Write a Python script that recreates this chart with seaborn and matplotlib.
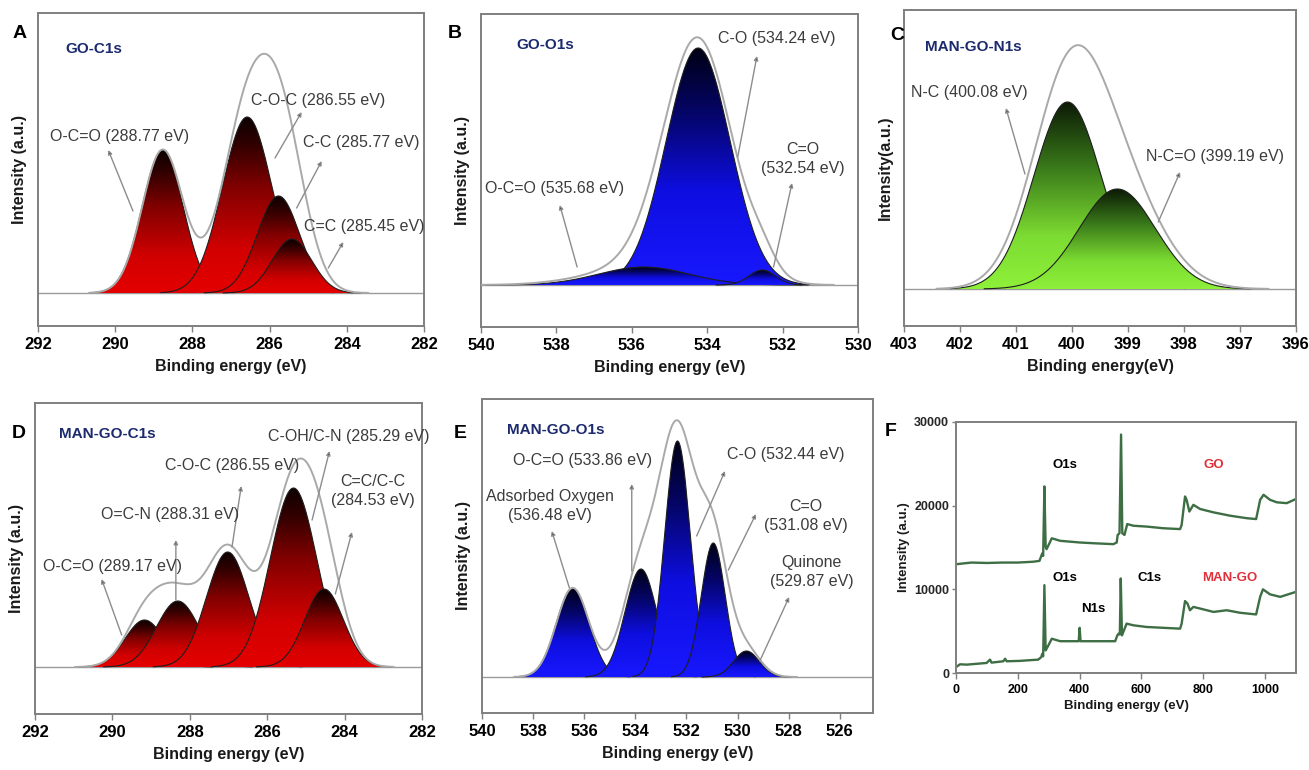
import numpy as np
import matplotlib
matplotlib.use("Agg")
import matplotlib.pyplot as plt
import seaborn as sns
from matplotlib.colors import LinearSegmentedColormap
from matplotlib.patches import Polygon

# ---------------- data ----------------
# Panel A : GO-C1s   (center eV, height a.u., gaussian sigma eV)
a_centers = [288.77, 286.58, 285.77, 285.42]
a_heights = [143, 176, 97, 54]
a_sigmas = [0.53, 0.64, 0.55, 0.51]
a_env_sigmas = [0.53, 0.64, 0.55, 0.55]
a_labels = ["O-C=O (288.77 eV)", "C-O-C (286.55 eV)", "C-C (285.77 eV)", "C=C (285.45 eV)"]

# Panel B : GO-O1s  (drawing order: C-O, O-C=O, C=O)
b_centers = [534.24, 535.68, 532.54]
b_heights = [237, 18, 15]
b_sigmas = [0.85, 1.2, 0.35]
b_env_sigmas = [0.9, 1.4, 0.35]
b_labels = ["C-O (534.24 eV)", "O-C=O (535.68 eV)", "C=O\n(532.54 eV)"]

# Panel C : MAN-GO-N1s
c_centers = [400.08, 399.19]
c_heights = [187, 100]
c_sigmas = [0.6, 0.68]
c_env_sigmas = [0.65, 0.75]
c_labels = ["N-C (400.08 eV)", "N-C=O (399.19 eV)"]

# Panel D : MAN-GO-C1s
d_centers = [289.17, 288.31, 287.02, 285.32, 284.53]
d_heights = [47, 66, 115, 179, 78]
d_sigmas = [0.5, 0.55, 0.55, 0.6, 0.5]
d_env_sigmas = [0.5, 0.55, 0.55, 0.6, 0.5]
d_labels = ["O-C=O (289.17 eV)", "O=C-N (288.31 eV)", "C-O-C (286.55 eV)",
            "C-OH/C-N (285.29 eV)", "C=C/C-C\n(284.53 eV)"]

# Panel E : MAN-GO-O1s
e_centers = [536.45, 533.78, 532.35, 530.95, 529.65]
e_heights = [89, 108, 236, 134, 26]
e_sigmas = [0.64, 0.62, 0.5, 0.47, 0.5]
e_env_sigmas = [0.64, 0.7, 0.68, 0.58, 0.55]
e_labels = ["Adsorbed Oxygen\n(536.48 eV)", "O-C=O (533.86 eV)", "C-O (532.44 eV)",
            "C=O\n(531.08 eV)", "Quinone\n(529.87 eV)"]

# Panel F : survey spectra
go_energy = [0, 50, 100, 150, 200, 250, 270, 279, 282, 286, 290, 293, 310, 337, 400, 450,
             509, 520, 523, 529, 534, 538, 545, 554, 574, 617, 671, 725, 730, 741, 746,
             755, 768, 790, 833, 887, 941, 971, 984, 995, 1016, 1038, 1070, 1100]
go_intensity = [13000, 13200, 13150, 13200, 13200, 13300, 13400, 14300, 14000, 22300, 15100,
                14800, 16100, 15800, 15600, 15500, 15400, 15600, 16500, 16700, 28500, 16700,
                16500, 17800, 17600, 17500, 17300, 17200, 17700, 21100, 20700, 19300, 20100,
                19600, 19200, 18800, 18500, 18400, 20700, 21300, 20700, 20400, 20300, 20800]
man_energy = [0, 13, 35, 99, 110, 115, 153, 159, 164, 207, 266, 276, 279, 282, 286, 290, 296,
              310, 337, 397, 400, 403, 455, 515, 522, 526, 530, 533, 537, 552, 574, 617, 725,
              730, 741, 749, 757, 768, 790, 833, 876, 919, 971, 984, 993, 1016, 1049, 1100]
man_intensity = [700, 1040, 1000, 1200, 1600, 1240, 1400, 1700, 1400, 1450, 1600, 1900, 2300,
                 2000, 10500, 2700, 3100, 4100, 3800, 3800, 5400, 3800, 3800, 3800, 4500, 4700,
                 4600, 11300, 4500, 5900, 5700, 5500, 5300, 5900, 8600, 8300, 7500, 7900, 7700,
                 7300, 7500, 7200, 7000, 9100, 10000, 9400, 9100, 9700]
f_labels = ["O1s", "GO", "O1s", "N1s", "C1s", "MAN-GO"]

# ---------------- style ----------------
sns.set_theme(style="white")
plt.rcParams["font.family"] = ["Liberation Sans", "DejaVu Sans"]

W, H = 1309, 770
fig = plt.figure(figsize=(W / 100, H / 100), dpi=100)

def px_axes(l, r, t, b):
    return fig.add_axes([l / W, 1 - b / H, (r - l) / W, (b - t) / H])

red_cmap = LinearSegmentedColormap.from_list(
    "r", [(0, "#e40000"), (0.25, "#d20000"), (0.6, "#820000"), (0.85, "#300000"), (1, "#0c0000")])
blue_cmap = LinearSegmentedColormap.from_list(
    "b", [(0, "#1818ff"), (0.4, "#0e0ee0"), (0.72, "#05056a"), (1, "#000014")])
green_cmap = LinearSegmentedColormap.from_list(
    "g", [(0, "#8ef03a"), (0.28, "#7ddc32"), (0.65, "#3a7a1a"), (1, "#0c1a06")])

TXT = "#3c3c3c"
SPINE = "#7f7f7f"
TITLE = "#1c2a6e"


def gauss(x, c, h, s):
    return h * np.exp(-(x - c) ** 2 / (2 * s ** 2))


def style_axes(ax, xlim, ylim, xticks, xlabel, ylabel, tsize=12, lsize=11.5, ylabpad=8):
    ax.set_xlim(*xlim)
    ax.set_ylim(*ylim)
    ax.set_xticks(xticks)
    ax.tick_params(axis="x", direction="out", length=4, width=1, color=SPINE,
                   labelsize=tsize, pad=4, labelcolor="black", bottom=True)
    for lab in ax.get_xticklabels():
        lab.set_fontweight("bold")
    for sp in ax.spines.values():
        sp.set_color(SPINE)
        sp.set_linewidth(1.4)
    ax.set_xlabel(xlabel, fontsize=lsize, fontweight="bold", color="#1a1a1a", labelpad=5)
    ax.set_ylabel(ylabel, fontsize=lsize, fontweight="bold", color="#1a1a1a", labelpad=ylabpad)


def xps_panel(ax, centers, heights, sigmas, env_sigmas, cmap, xlim, ylim, xticks,
              xlabel, ylabel, title, title_pos, labels, label_pos, arrows):
    ax.axhline(0, color="#9a9a9a", lw=1.0, zorder=1)
    lo = max(c + 3.6 * s for c, s in zip(centers, env_sigmas))
    hi = min(c - 3.6 * s for c, s in zip(centers, env_sigmas))
    grad = np.linspace(0, 1, 256).reshape(-1, 1)
    z = 2
    for c, h, s in zip(centers, heights, sigmas):
        x = np.linspace(c - 3.5 * s, c + 3.5 * s, 300)
        y = gauss(x, c, h, s)
        patch = Polygon(np.column_stack([np.r_[x, x[::-1]], np.r_[y, np.zeros_like(y)]]),
                        closed=True, facecolor="none", edgecolor="none")
        ax.add_patch(patch)
        img = ax.imshow(grad, aspect="auto", cmap=cmap, origin="lower",
                        extent=[x.min(), x.max(), 0, h], zorder=z, interpolation="bilinear")
        img.set_clip_path(patch)
        sns.lineplot(x=x, y=y, ax=ax, color="#1e1e1e", linewidth=0.8, zorder=z + 0.5)
        z += 1
    xe = np.linspace(hi, lo, 800)
    ye = np.zeros_like(xe)
    for c, h, s in zip(centers, heights, env_sigmas):
        ye += gauss(xe, c, h, s)
    sns.lineplot(x=xe, y=ye, ax=ax, color="#a9a9a9", linewidth=1.4, zorder=z + 1)
    for lab, (tx, ty, ha), (hx, hy, sx, sy) in zip(labels, label_pos, arrows):
        ax.text(tx, ty, lab, ha=ha, va="center", fontsize=11.5, color=TXT,
                multialignment="center", linespacing=1.3, zorder=z + 3)
        ax.annotate("", xy=(hx, hy), xytext=(sx, sy), zorder=z + 2,
                    arrowprops=dict(arrowstyle="-|>", ec="#8c8c8c", fc="#111111", lw=1.0,
                                    mutation_scale=6, shrinkA=0, shrinkB=0))
    ax.text(title_pos[0], title_pos[1], title, transform=ax.transAxes, fontsize=11,
            fontweight="bold", color=TITLE, ha="left", va="center", zorder=z + 3)
    style_axes(ax, xlim, ylim, xticks, xlabel, ylabel)
    ax.set_yticks([])


# ---------------- panel A ----------------
axA = px_axes(38, 424, 13, 326)
xps_panel(axA, a_centers, a_heights, a_sigmas, a_env_sigmas, red_cmap,
          (292, 282), (-33, 280), np.arange(292, 281, -2),
          "Binding energy (eV)", "Intensity (a.u.)", "GO-C1s", (0.07, 0.885), a_labels,
          [(291.70, 157, "left"), (286.47, 193, "left"), (285.13, 150, "left"), (285.11, 67, "left")],
          [(290.18, 143, 289.54, 82), (285.17, 181, 285.86, 135),
           (284.65, 132, 285.30, 85), (284.09, 51, 284.48, 25)])

# ---------------- panel B ----------------
axB = px_axes(481, 858, 14, 327)
xps_panel(axB, b_centers, b_heights, b_sigmas, b_env_sigmas, blue_cmap,
          (540, 530), (-42, 271), np.arange(540, 529, -2),
          "Binding energy (eV)", "Intensity (a.u.)", "GO-O1s", (0.094, 0.9), b_labels,
          [(533.72, 246, "left"), (539.89, 97, "left"), (531.46, 126, "center")],
          [(532.68, 229, 533.19, 128), (537.91, 80, 537.45, 18), (531.75, 102, 532.24, 18)])

# ---------------- panel C ----------------
axC = px_axes(904, 1296, 10, 326)
xps_panel(axC, c_centers, c_heights, c_sigmas, c_env_sigmas, green_cmap,
          (403, 396), (-37, 279), np.arange(403, 395, -1),
          "Binding energy(eV)", "Intensity(a.u.)", "MAN-GO-N1s", (0.053, 0.882), c_labels,
          [(402.87, 197, "left"), (398.68, 132, "left")],
          [(401.18, 181, 400.84, 115), (398.07, 117, 398.46, 67)])

# ---------------- panel D ----------------
axD = px_axes(35, 422, 403, 714)
xps_panel(axD, d_centers, d_heights, d_sigmas, d_env_sigmas, red_cmap,
          (292, 282), (-47, 264), np.arange(292, 281, -2),
          "Binding energy (eV)", "Intensity (a.u.)", "MAN-GO-C1s", (0.063, 0.9), d_labels,
          [(291.80, 101, "left"), (290.30, 153, "left"), (288.64, 201, "left"),
           (285.97, 230, "left"), (283.27, 176, "center")],
          [(290.28, 88, 289.76, 32), (288.36, 127, 288.36, 67), (286.67, 181, 286.91, 120),
           (284.39, 216, 284.84, 147), (283.81, 135, 284.24, 73)])

# ---------------- panel E ----------------
axE = px_axes(482, 873, 399, 713)
xps_panel(axE, e_centers, e_heights, e_sigmas, e_env_sigmas, blue_cmap,
          (540, 524.7), (-36, 278), np.arange(540, 525, -2),
          "Binding energy (eV)", "Intensity (a.u.)", "MAN-GO-O1s", (0.063, 0.9), e_labels,
          [(537.33, 171, "center"), (538.79, 216, "left"), (530.43, 222, "left"),
           (527.33, 161, "center"), (527.11, 105, "center")],
          [(537.27, 146, 536.58, 89), (534.14, 193, 534.14, 106), (530.49, 206, 531.60, 141),
           (529.28, 163, 530.36, 107), (527.98, 80, 529.13, 16)])

# ---------------- panel F ----------------
axF = px_axes(956, 1296, 422, 673)
sns.lineplot(x=go_energy, y=go_intensity, ax=axF, color="#3d6e44", linewidth=1.7, sort=False)
sns.lineplot(x=man_energy, y=man_intensity, ax=axF, color="#3d6e44", linewidth=1.7, sort=False)
f_pos = [(353, 24900, "black"), (833, 24900, "#e0303a"), (353, 11400, "black"),
         (444, 7700, "black"), (626, 11400, "black"), (885, 11400, "#e0303a")]
for lab, (fx, fy, col) in zip(f_labels, f_pos):
    axF.text(fx, fy, lab, ha="center", va="center", fontsize=9.5, fontweight="bold", color=col)
style_axes(axF, (0, 1100), (0, 30000), [0, 200, 400, 600, 800, 1000],
           "Binding energy (eV)", "Intensity (a.u.)", tsize=9, lsize=9.5, ylabpad=3)
axF.set_yticks([0, 10000, 20000, 30000])
axF.tick_params(axis="y", direction="out", length=3, width=1, color=SPINE,
                labelsize=9, pad=2, left=True)
for lab in axF.get_yticklabels():
    lab.set_fontweight("bold")
axF.xaxis.labelpad = 3

# ---------------- panel letters ----------------
for letter, (lx, ly) in zip("ABCDEF", [(20, 33), (455, 34), (897, 36), (19, 434), (460, 433), (891, 431)]):
    fig.text(lx / W, 1 - ly / H, letter, fontsize=14, fontweight="bold", color="black",
             ha="center", va="center")

fig.savefig("out.png", dpi=100)
